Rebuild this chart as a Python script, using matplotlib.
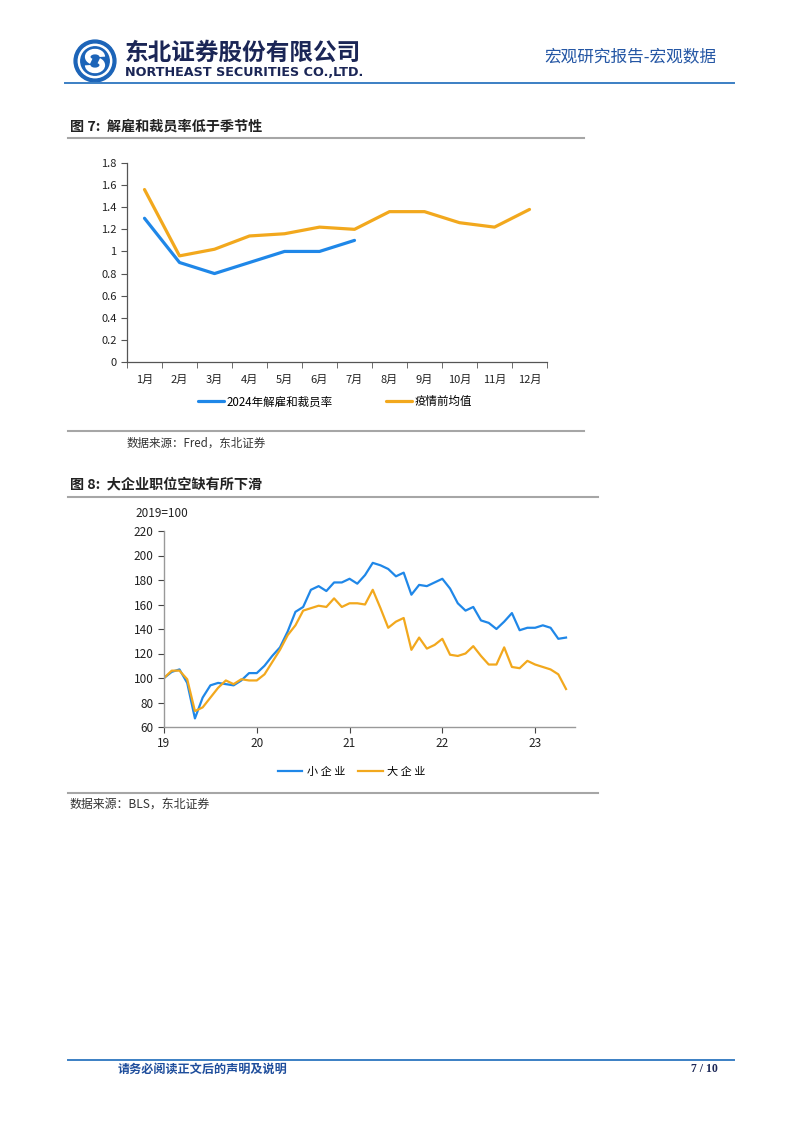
import matplotlib
matplotlib.use("Agg")
import matplotlib.pyplot as plt
from matplotlib.patches import Circle, Arc
from matplotlib.lines import Line2D
import numpy as np

plt.rcParams['font.family'] = ['Noto Sans CJK SC', 'DejaVu Sans']

# ---- data: figure 7 ----
months = ["1月", "2月", "3月", "4月", "5月", "6月", "7月", "8月", "9月", "10月", "11月", "12月"]
layoff_2024 = [1.3, 0.9, 0.8, 0.9, 1.0, 1.0, 1.1]
layoff_pre = [1.56, 0.96, 1.02, 1.14, 1.16, 1.22, 1.2, 1.36, 1.36, 1.26, 1.22, 1.38]

# ---- data: figure 8 (monthly, Jan 2019 - May 2023, 2019=100) ----
small_firms = [100, 105, 107, 96, 67, 84, 94, 96, 95, 94, 98, 104,
               104, 110, 118, 125, 138, 154, 158, 172, 175, 171, 178, 178,
               181, 177, 184, 194, 192, 189, 183, 186, 168, 176, 175, 178,
               181, 173, 161, 155, 158, 147, 145, 140, 146, 153, 139, 141,
               141, 143, 141, 132, 133]
large_firms = [100, 106, 106, 99, 73, 76, 84, 92, 98, 95, 99, 98,
               98, 103, 113, 123, 135, 143, 155, 157, 159, 158, 165, 158,
               161, 161, 160, 172, 157, 141, 146, 149, 123, 133, 124, 127,
               132, 119, 118, 120, 126, 118, 111, 111, 125, 109, 108, 114,
               111, 109, 107, 103, 91]
year_ticks = [19, 20, 21, 22, 23]

W, H = 802, 1133
BLUE = "#1f87e8"
ORANGE = "#f2a81d"
GREY_LINE = "#a6a6a6"
TXT = "#222222"


def box(l, t, r, b):
    return [l / W, 1 - b / H, (r - l) / W, (b - t) / H]


def ty(y):
    return 1 - y / H


fig = plt.figure(figsize=(W / 100, H / 100), dpi=100)

# ---- header ----
logo = fig.add_axes(box(70, 38, 120, 84))
logo.set_xlim(-1.1, 1.1)
logo.set_ylim(-1.1, 1.1)
logo.set_aspect("equal")
logo.axis("off")
logo.add_patch(Circle((0, 0), 1.0, color="#1c64b8"))
logo.add_patch(Circle((0, 0), 0.8, color="white"))
logo.add_patch(Circle((0, 0), 0.68, color="#1c64b8"))
logo.add_patch(Arc((0.0, 0.2), 0.7, 0.5, theta1=0, theta2=230, color="white", lw=4))
logo.add_patch(Arc((0.0, -0.2), 0.7, 0.5, theta1=180, theta2=410, color="white", lw=4))

fig.text(125 / W, ty(53), "东北证券股份有限公司", fontsize=17, fontweight="bold",
         color="#1b2656", va="center", ha="left")
fig.text(125 / W, ty(72), "NORTHEAST SECURITIES CO.,LTD.", fontsize=9.2, fontweight="bold",
         color="#1b2656", va="center", ha="left", family="DejaVu Sans")
fig.text(716 / W, ty(57), "宏观研究报告-宏观数据", fontsize=12, color="#2456a4",
         va="center", ha="right")
fig.add_artist(Line2D([65 / W, 734 / W], [ty(83), ty(83)], color="#3b7fc4", lw=1.4))

# ---- figure 7 ----
fig.text(70 / W, ty(127), "图 7:  解雇和裁员率低于季节性", fontsize=10.2, fontweight="bold",
         color=TXT, va="center", ha="left")
fig.add_artist(Line2D([68 / W, 584 / W], [ty(138), ty(138)], color=GREY_LINE, lw=1.5))

ax1 = fig.add_axes(box(127, 163, 547, 362))
x7 = np.arange(len(months))
l1, = ax1.plot(x7[:len(layoff_2024)], layoff_2024, color=BLUE, lw=2.3, solid_capstyle="round")
l2, = ax1.plot(x7, layoff_pre, color=ORANGE, lw=2.3, solid_capstyle="round")
ax1.set_xlim(-0.5, len(months) - 0.5)
ax1.set_ylim(0, 1.8)
ax1.set_yticks(np.arange(0, 1.81, 0.2))
ax1.set_yticklabels(["0", "0.2", "0.4", "0.6", "0.8", "1", "1.2", "1.4", "1.6", "1.8"])
ax1.set_xticks(x7)
ax1.set_xticklabels(months)
ax1.set_xticks(np.arange(-0.5, len(months), 1), minor=True)
ax1.tick_params(axis="x", which="major", length=0, pad=9, labelsize=8, colors=TXT)
ax1.tick_params(axis="x", which="minor", length=4, direction="out", color="#555555")
ax1.tick_params(axis="y", length=4, direction="out", labelsize=8, colors=TXT, color="#555555")
for s in ["top", "right"]:
    ax1.spines[s].set_visible(False)
for s in ["left", "bottom"]:
    ax1.spines[s].set_color("#555555")
    ax1.spines[s].set_linewidth(0.9)
ax1.legend([l1, l2], ["2024年解雇和裁员率", "疫情前均值"], loc="center",
           bbox_to_anchor=(0.495, -0.2), ncol=2, frameon=False, fontsize=8.3,
           handlelength=2.3, handletextpad=0.2, columnspacing=4.6)

fig.add_artist(Line2D([68 / W, 584 / W], [ty(431), ty(431)], color=GREY_LINE, lw=1.5))
fig.text(127 / W, ty(443), "数据来源：Fred，东北证券", fontsize=8.3, color="#333333",
         va="center", ha="left")

# ---- figure 8 ----
fig.text(70 / W, ty(484), "图 8:  大企业职位空缺有所下滑", fontsize=10.2, fontweight="bold",
         color=TXT, va="center", ha="left")
fig.add_artist(Line2D([68 / W, 598 / W], [ty(497), ty(497)], color=GREY_LINE, lw=1.5))
fig.text(135 / W, ty(513), "2019=100", fontsize=8.5, color=TXT, va="center", ha="left")

ax2 = fig.add_axes(box(164, 531, 575, 727))
x8 = year_ticks[0] + np.arange(len(small_firms)) / 12
s1, = ax2.plot(x8, small_firms, color=BLUE, lw=1.6)
s2, = ax2.plot(x8, large_firms, color=ORANGE, lw=1.6)
ax2.set_xlim(19, 23.43)
ax2.set_ylim(60, 220)
ax2.set_yticks(np.arange(60, 221, 20))
ax2.set_xticks(year_ticks)
ax2.set_xticklabels([str(y) for y in year_ticks])
ax2.tick_params(axis="x", length=4, direction="out", labelsize=8.5, colors=TXT, color="#444444", pad=3)
ax2.tick_params(axis="y", length=4, direction="out", labelsize=8.5, colors=TXT, color="#444444")
for s in ["top", "right"]:
    ax2.spines[s].set_visible(False)
for s in ["left", "bottom"]:
    ax2.spines[s].set_color("#999999")
    ax2.spines[s].set_linewidth(1.0)
ax2.legend([s1, s2], ["小 企 业", "大 企 业"], loc="center", bbox_to_anchor=(0.457, -0.23),
           ncol=2, frameon=False, fontsize=8, handlelength=2.2, handletextpad=0.4,
           columnspacing=1.2)

fig.add_artist(Line2D([68 / W, 598 / W], [ty(793), ty(793)], color=GREY_LINE, lw=1.5))
fig.text(70 / W, ty(804), "数据来源：BLS，东北证券", fontsize=8.6, color="#333333",
         va="center", ha="left")

# ---- footer ----
fig.add_artist(Line2D([68 / W, 734 / W], [ty(1060), ty(1060)], color="#3b7fc4", lw=1.4))
fig.text(118 / W, ty(1069), "请务必阅读正文后的声明及说明", fontsize=8.7, fontweight="bold",
         color="#1f4e9c", va="center", ha="left")
fig.text(718 / W, ty(1069), "7 / 10", fontsize=8.5, fontweight="bold",
         color="#1b2656", va="center", ha="right", family="Liberation Serif")

fig.savefig("out.png", dpi=100)
